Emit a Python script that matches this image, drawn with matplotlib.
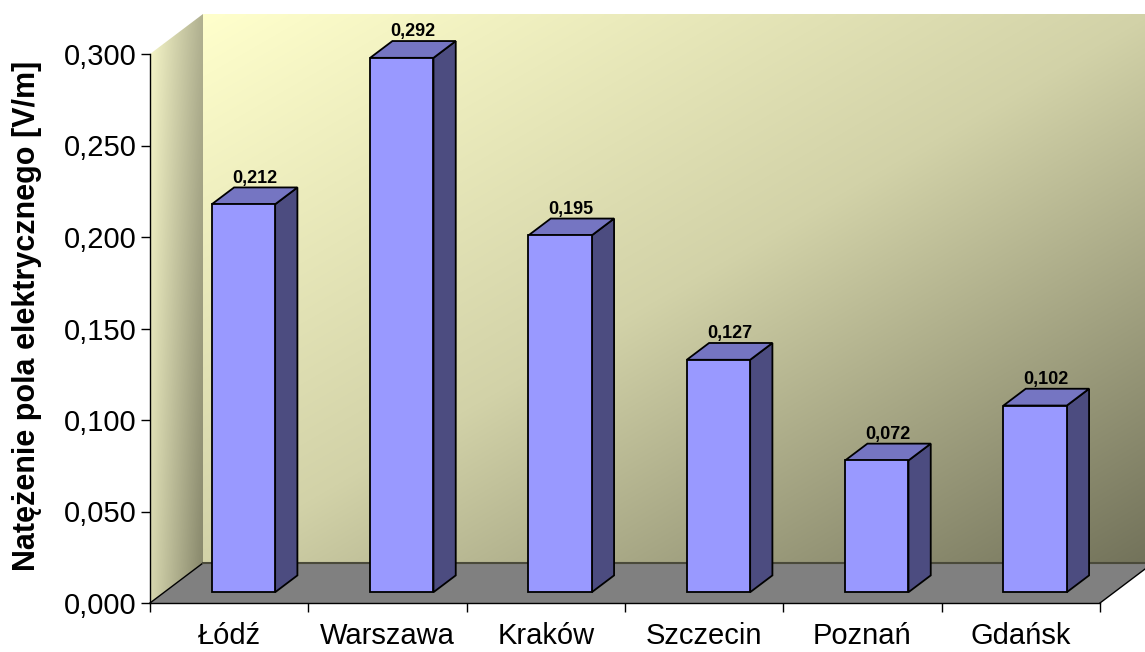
import numpy as np
import matplotlib
matplotlib.use('Agg')
import matplotlib.pyplot as plt
from matplotlib.patches import Polygon
from matplotlib.colors import to_rgb

# Dane
miasta = ['Łódź', 'Warszawa', 'Kraków', 'Szczecin', 'Poznań', 'Gdańsk']
wartosci = [0.212, 0.292, 0.195, 0.127, 0.072, 0.102]
y_ticks = [0.0, 0.05, 0.10, 0.15, 0.20, 0.25, 0.30]
y_label = 'Natężenie pola elektrycznego [V/m]'

plt.rcParams['font.family'] = ['Liberation Sans', 'DejaVu Sans']

W, H = 1145, 652
fig = plt.figure(figsize=(W / 100, H / 100), dpi=100)
# obszar osi w pikselach: x 150..1100, y 54..603
ax = fig.add_axes([150 / W, (H - 603) / H, 950 / W, 549 / H])

n = len(miasta)
YMAX = 0.3
# przesunięcie głębi (efekt 3D) w jednostkach danych
DX = 53 / (950 / n)
DY = 40 / (549 / YMAX)


def proj(x, v, d):
    return (x + d * DX, v + d * DY)


def lerp(c1, c2, t):
    c1 = np.array(to_rgb(c1))
    c2 = np.array(to_rgb(c2))
    return c1 + (c2 - c1) * t


# Tylna ściana - gradient po przekątnej
ny, nx = 200, 400
u = np.linspace(0, 1, nx)[None, :]
v = np.linspace(0, 1, ny)[:, None]
t = (u + v) / 2
stops_t = [0.0, 0.5, 1.0]
stops_c = [np.array(to_rgb(c)) for c in ['#ffffcc', '#d2d2a8', '#72725a']]
img = np.zeros((ny, nx, 3))
for k in range(3):
    img[:, :, k] = np.interp(t, stops_t, [c[k] for c in stops_c])
ax.imshow(img, extent=[DX, n + DX, DY, YMAX + DY], origin='upper',
          aspect='auto', clip_on=False, zorder=0, interpolation='bilinear')

# Lewa ściana - gradient
ny2, nx2 = 200, 60
u2 = np.linspace(0, 1, nx2)[None, :, None]
v2 = np.linspace(0, 1, ny2)[:, None, None]
top = lerp('#f6f6c8', '#b0b090', u2)
bot = lerp('#d6d6ae', '#86866a', u2)
img2 = np.clip(top + (bot - top) * v2, 0, 1)
im2 = ax.imshow(img2, extent=[0, DX, 0, YMAX + DY], origin='upper',
                aspect='auto', zorder=0, interpolation='bilinear')
lewa = Polygon([proj(0, 0, 0), proj(0, 0, 1), proj(0, YMAX, 1), proj(0, YMAX, 0)],
               closed=True, transform=ax.transData, facecolor='none', edgecolor='none')
im2.set_clip_box(fig.bbox)
im2.set_clip_path(lewa)

# Podłoga
podloga = Polygon([proj(0, 0, 0), proj(n, 0, 0), proj(n, 0, 1), proj(0, 0, 1)],
                  closed=True, facecolor='#808080', edgecolor='none',
                  clip_on=False, zorder=1)
ax.add_patch(podloga)
ax.plot(*zip(proj(0, 0, 0), proj(0, 0, 1)), color='black', lw=1, clip_on=False, zorder=2)
ax.plot(*zip(proj(n, 0, 0), proj(n, 0, 1)), color='black', lw=1, clip_on=False, zorder=2)
ax.plot(*zip(proj(0, 0, 1), proj(n, 0, 1)), color='#4a4a3a', lw=1.5, clip_on=False, zorder=2)

# Słupki
szer = 0.4
d_front, d_back = 0.27, 0.69
for i, val in enumerate(wartosci):
    x0 = i + 0.5 - szer / 2
    x1 = i + 0.5 + szer / 2
    front = [proj(x0, 0, d_front), proj(x1, 0, d_front), proj(x1, val, d_front), proj(x0, val, d_front)]
    gora = [proj(x0, val, d_front), proj(x1, val, d_front), proj(x1, val, d_back), proj(x0, val, d_back)]
    bok = [proj(x1, 0, d_front), proj(x1, 0, d_back), proj(x1, val, d_back), proj(x1, val, d_front)]
    for pts, col in [(bok, '#4c4c80'), (gora, '#7575c2'), (front, '#9999ff')]:
        ax.add_patch(Polygon(pts, closed=True, facecolor=col, edgecolor='black',
                             lw=1.3, joinstyle='miter', clip_on=False, zorder=3))
    d_mid = (d_front + d_back) / 2
    tx = proj(i + 0.5, val, d_mid)[0]
    ty = proj(i + 0.5, val, d_back)[1]
    ax.text(tx, ty + 0.0005, f'{val:.3f}'.replace('.', ','), ha='center', va='bottom',
            fontsize=13, fontweight='bold', zorder=4, clip_on=False)

# Osie
ax.set_xlim(0, n)
ax.set_ylim(0, YMAX)
for s in ['top', 'right']:
    ax.spines[s].set_visible(False)
for s in ['left', 'bottom']:
    ax.spines[s].set_color('black')
    ax.spines[s].set_linewidth(1)
    ax.spines[s].set_zorder(5)
ax.patch.set_visible(False)

ax.set_yticks(y_ticks)
ax.set_yticklabels([f'{v:.3f}'.replace('.', ',') for v in y_ticks])
ax.tick_params(axis='y', direction='out', length=6.5, width=1, pad=3, labelsize=21)

ax.set_xticks(np.arange(n + 1))
ax.set_xticklabels([])
ax.set_xticks(np.arange(n) + 0.5, minor=True)
ax.set_xticklabels(miasta, minor=True)
ax.tick_params(axis='x', which='major', direction='out', length=6.5, width=1)
ax.tick_params(axis='x', which='minor', length=0, pad=14, labelsize=21)

fig.text(27 / W, 1 - 316 / H, y_label, rotation=90, ha='center', va='center',
         fontsize=22, fontweight='bold')

fig.savefig('out.png', dpi=100)
